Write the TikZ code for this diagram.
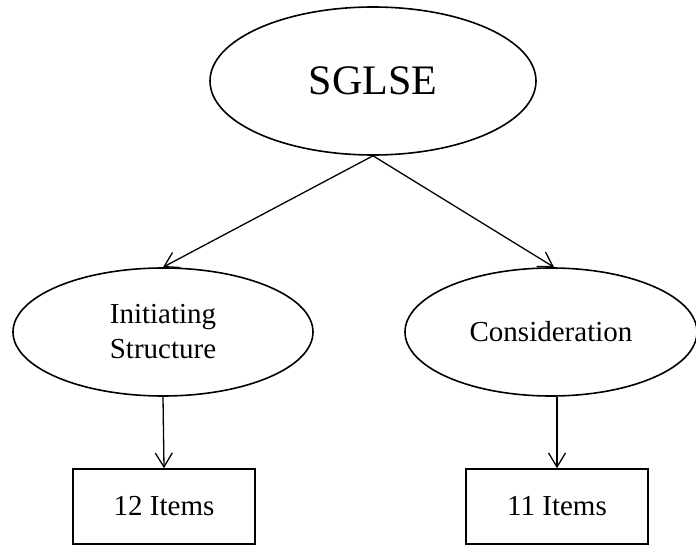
\documentclass[tikz,border=0pt]{standalone}
\usepackage{fontspec}
\setmainfont{Liberation Serif}
\usetikzlibrary{shapes.geometric,arrows.meta}
\tikzset{
  oval/.style={draw=black, line width=1.6pt, ellipse, inner sep=0pt, align=center,
    font=\fontsize{29}{35}\selectfont},
  itembox/.style={draw=black, line width=1.6pt, rectangle, inner sep=0pt,
    minimum width=182pt, minimum height=75pt, font=\fontsize{29}{35}\selectfont},
  link/.style={line width=1.3pt, -{Straight Barb[length=14pt,width=17pt,line width=1.3pt]}}
}
\begin{document}
\begin{tikzpicture}[x=1pt,y=-1pt]
\useasboundingbox (0,0) rectangle (696,545);
\node[oval, minimum width=326pt, minimum height=148pt, font=\fontsize{42}{50}\selectfont] (top) at (373,81) {SGLSE};
\node[oval, minimum width=300pt, minimum height=128pt] (init) at (163,332) {Initiating\\Structure};
\node[oval, minimum width=292pt, minimum height=128pt] (cons) at (551,332) {Consideration};
\node[itembox] (b12) at (164,506.5) {12 Items};
\node[itembox] (b11) at (557,506.5) {11 Items};
\draw[link] (top.south) -- (init.north);
\draw[link] (top.south) -- (cons.north -| 554,0);
\draw[link] (init.south) -- (b12.north);
\draw[link] (cons.south -| b11.north) -- (b11.north);
\end{tikzpicture}
\end{document}
